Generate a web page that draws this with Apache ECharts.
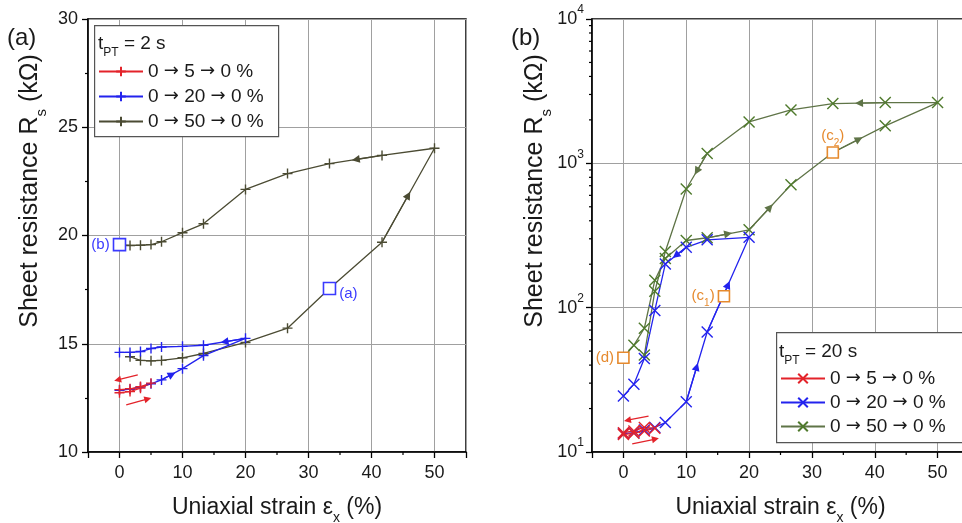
<!DOCTYPE html>
<html>
<head>
<meta charset="utf-8">
<script src="https://cdn.jsdelivr.net/npm/echarts@6/dist/echarts.min.js"></script>
<style>
  html, body { margin: 0; padding: 0; background: #fff; }
  #chart { width: 962px; height: 523px; }
</style>
</head>
<body>
<div id="chart"></div>
<script>
// ---------- (a) t_PT = 2 s : sheet resistance in kΩ, linear scale ----------
const strainA5  = [0, 1.67, 3.33, 5, 3.33, 1.67, 0];
const rsA5      = [12.74, 12.79, 12.95, 13.18, 13.02, 12.92, 12.88];
const strainA20 = [0, 1.67, 3.33, 5, 6.67, 10, 13.33, 20, 13.33, 10, 6.67, 5, 3.33, 1.67, 0];
const rsA20     = [12.85, 12.9, 13.0, 13.15, 13.33, 13.85, 14.45, 15.25, 14.93, 14.88, 14.85, 14.78, 14.64, 14.6, 14.6];
const strainA50 = [1.67, 3.33, 5, 6.67, 10, 13.33, 20, 26.67, 33.33, 41.67, 50, 41.67, 33.33, 26.67, 20, 13.33, 10, 6.67, 5, 3.33, 1.67, 0];
const rsA50     = [14.4, 14.23, 14.21, 14.23, 14.35, 14.55, 15.06, 15.72, 17.55, 19.69, 24.03, 23.7, 23.32, 22.86, 22.13, 20.54, 20.13, 19.71, 19.58, 19.55, 19.54, 19.58];
// segments (start index) that carry a direction arrow
const arrowSegA20 = [4, 7];
const arrowSegA50 = [9, 11];
// loading / unloading hints beside the 0 → 5 → 0 % loop
const hintA5 = [[[2.9, 13.56], [-0.3, 13.33]], [[1.07, 12.18], [4.5, 12.45]]];
// marked states
const markA      = [[33.33, 17.55], [0, 19.58]];
const markALabel = ['(a)', '(b)'];

// ---------- (b) t_PT = 20 s : sheet resistance in kΩ, log scale ----------
const strainB5  = [0, 1.67, 3.33, 5, 3.33, 1.67, 0];
const rsB5      = [13.2, 13.5, 14.0, 14.6, 14.8, 14.0, 13.6];
const strainB20 = [0, 1.67, 3.33, 5, 6.67, 10, 13.33, 20, 13.33, 10, 6.67, 5, 3.33, 1.67, 0];
const rsB20     = [13.4, 13.6, 14.2, 14.8, 16, 22.3, 67.8, 307, 295, 262, 201, 95.7, 44.5, 29.5, 24.4];
const strainB50 = [0, 1.67, 3.33, 5, 6.67, 10, 13.33, 20, 26.67, 33.33, 41.67, 50, 41.67, 33.33, 26.67, 20, 13.33, 10, 6.67, 5, 3.33];
const rsB50     = [45, 55, 72, 155, 219, 292, 305, 346, 711, 1189, 1820, 2637, 2637, 2594, 2345, 1936, 1170, 664, 245, 130, 47];
const arrowSegB20 = [5, 6, 9];
const arrowSegB50 = [6, 7, 9, 12, 16];
const hintB5 = [[[4.0, 17.7], [0.64, 16.6]], [[1.4, 11.4], [5.1, 12.3]]];
const markB      = [[16, 120], [33.33, 1189], [0, 45]];
const markBLabel = ['(c{sub|1})', '(c{sub|2})', '(d)'];
const markBPos   = ['left', 'top', 'left'];

// axis decorations
const minorStrain = [5, 15, 25, 35, 45];
const minorDecade = [20, 30, 40, 50, 60, 70, 80, 90, 200, 300, 400, 500, 600, 700, 800, 900, 2000, 3000, 4000, 5000, 6000, 7000, 8000, 9000];

const NAMES = ['0 → 5 → 0 %', '0 → 20 → 0 %', '0 → 50 → 0 %'];

const FONT = '"Liberation Sans", Arial, "DejaVu Sans", sans-serif';
const ARROW_FONT = '"DejaVu Sans", sans-serif';
const INK = '#1a1a1a';
const RED = '#e3232a', BLUE = '#2323ee', OLIVE = '#4b4b33', GREEN = '#4f7a2c', GREEN_LINE = '#5f7447';
const MARK_BLUE = '#3a3aff', ORANGE = '#e68a2e';
const PLUS = 'path://M5,0L5,10M0,5L10,5';
const CROSS = 'path://M0,0L10,10M0,10L10,0';

const subRich = { sub: { fontSize: 14, fontFamily: FONT, color: INK, verticalAlign: 'bottom', lineHeight: 12, padding: [0, 0, -6, 0] } };

const pairs = (xs, ys) => xs.map((x, i) => [x, ys[i]]);

function curve(name, xs, ys, color, symbol, size, axis, lineColor) {
  return {
    type: 'line', name, xAxisIndex: axis.x, yAxisIndex: axis.y, data: pairs(xs, ys),
    symbol, symbolSize: size, showSymbol: true, showAllSymbol: true,
    lineStyle: { color: lineColor || color, width: 1.3 },
    itemStyle: { color, borderColor: color, borderWidth: 1.4 },
    emphasis: { disabled: true }, animation: false, silent: true, z: 3
  };
}

function midPoint(a, b, log) {
  return [(a[0] + b[0]) / 2, log ? Math.sqrt(a[1] * b[1]) : (a[1] + b[1]) / 2];
}

function arrows(xs, ys, segs, color, axis, log) {
  return {
    type: 'lines', coordinateSystem: 'cartesian2d', xAxisIndex: axis.x, yAxisIndex: axis.y,
    data: segs.map(i => {
      const a = [xs[i], ys[i]], b = [xs[i + 1], ys[i + 1]];
      return { coords: [a, midPoint(a, b, log)] };
    }),
    symbol: ['none', 'triangle'], symbolSize: 8,
    lineStyle: { color, width: 1.3, opacity: 1 },
    silent: true, animation: false, z: 4
  };
}

function hints(segs, color, axis) {
  return {
    type: 'lines', coordinateSystem: 'cartesian2d', xAxisIndex: axis.x, yAxisIndex: axis.y,
    data: segs.map(s => ({ coords: s })),
    symbol: ['none', 'triangle'], symbolSize: 7,
    lineStyle: { color, width: 1.3, opacity: 1 },
    silent: true, animation: false, z: 4
  };
}

function marks(pts, labels, positions, color, axis, size, labelColor) {
  return {
    type: 'scatter', xAxisIndex: axis.x, yAxisIndex: axis.y,
    data: pts.map((p, i) => ({
      value: p,
      label: { position: positions[i], formatter: labels[i], offset: positions[i] === 'right' ? [0, 5] : [0, 0] }
    })),
    symbol: 'rect', symbolSize: size,
    itemStyle: { color: '#fff', borderColor: color, borderWidth: 1.6, opacity: 1 },
    label: { show: true, color: labelColor, fontSize: 15, fontFamily: FONT, distance: 3,
             rich: { sub: { fontSize: 10, color: labelColor, fontFamily: FONT, verticalAlign: 'bottom', lineHeight: 10, padding: [0, 0, -5, 0] } } },
    silent: true, animation: false, z: 6
  };
}

function tickMarks(vals, fixed, isX, dx, dy, axis) {
  return {
    type: 'custom', xAxisIndex: axis.x, yAxisIndex: axis.y, clip: false, silent: true, animation: false, z: 5,
    data: vals.map(v => isX ? [v, fixed] : [fixed, v]),
    renderItem: (params, api) => {
      const p = api.coord([api.value(0), api.value(1)]);
      return { type: 'line', shape: { x1: p[0], y1: p[1], x2: p[0] + dx, y2: p[1] + dy },
               style: { stroke: '#000', lineWidth: 1.2 } };
    }
  };
}

const axisLine = { show: true, onZero: false, lineStyle: { color: '#000', width: 1.5 } };
const gridLine = { show: true, lineStyle: { color: '#a0a0a0', width: 1 } };

function strainAxis(gridIndex) {
  return {
    type: 'value', gridIndex, min: -5, max: 55, splitNumber: 6,
    axisLine, axisTick: { show: true, length: 6, lineStyle: { color: '#000', width: 1.3 } },
    axisLabel: { fontSize: 18, color: INK, margin: 12, fontFamily: FONT,
                 formatter: v => (v % 10 === 0 ? String(v) : '') },
    splitLine: gridLine,
    name: 'Uniaxial strain ε{sub|x} (%)', nameLocation: 'middle', nameGap: 44,
    nameTextStyle: { fontSize: 23, color: INK, fontFamily: FONT, rich: subRich }
  };
}

const legendText = n => n.trim().replace(/→/g, '{a|→}');
const legendStyle = { fontSize: 19, color: INK, fontFamily: FONT,
                      rich: { a: { fontSize: 18, color: INK, fontFamily: ARROW_FONT } } };

function titleText(x, y, text, rotation, size) {
  return { type: 'text', x, y, rotation, z: 11,
    style: { text, align: 'center', verticalAlign: 'middle', fill: INK,
             rich: { i: { fontSize: size, fontFamily: FONT, fill: INK },
                     s: { fontSize: 15, fontFamily: FONT, fill: INK, verticalAlign: 'bottom', lineHeight: 12, padding: [0, 0, -7, 0] } } } };
}

const yTitle = '{i|Sheet resistance R}{s|s}{i| (kΩ)}';

const option = {
  backgroundColor: '#fff',
  animation: false,
  textStyle: { fontFamily: FONT },
  grid: [
    { left: 88, right: 496, top: 19, bottom: 71, show: true, borderColor: '#000', borderWidth: 1.5, containLabel: false, outerBoundsMode: 'none' },
    { left: 592, right: -7, top: 19, bottom: 71, show: true, borderColor: '#000', borderWidth: 1.5, containLabel: false, outerBoundsMode: 'none' }
  ],
  xAxis: [strainAxis(0), strainAxis(1)],
  yAxis: [
    {
      type: 'value', gridIndex: 0, min: 10, max: 30, interval: 5,
      axisLine, axisTick: { show: true, length: 6, lineStyle: { color: '#000', width: 1.3 } },
      minorTick: { show: true, splitNumber: 2, length: 3, lineStyle: { color: '#000', width: 1.2 } },
      axisLabel: { fontSize: 18, color: INK, margin: 10, fontFamily: FONT },
      splitLine: gridLine
    },
    {
      type: 'log', logBase: 10, gridIndex: 1, min: 10, max: 10000,
      axisLine, axisTick: { show: true, length: 6, lineStyle: { color: '#000', width: 1.3 } },
      axisLabel: { fontSize: 18, color: INK, margin: 8, fontFamily: FONT,
                   formatter: v => '10{sup|' + Math.round(Math.log10(v)) + '}',
                   rich: { sup: { fontSize: 12, color: INK, fontFamily: FONT, verticalAlign: 'top', lineHeight: 12, padding: [-6, 0, 0, 0] } } },
      splitLine: gridLine
    }
  ],
  legend: [
    {
      left: 98, top: 62, orient: 'vertical', itemWidth: 44, itemHeight: 12, itemGap: 6, padding: 0,
      data: NAMES, selectedMode: false, z: 10,
      textStyle: legendStyle, formatter: legendText
    },
    {
      left: 780, top: 369, orient: 'vertical', itemWidth: 44, itemHeight: 12, itemGap: 5, padding: 0,
      data: NAMES.map(n => n + ' '), selectedMode: false, z: 10,
      textStyle: legendStyle, formatter: legendText
    }
  ],
  graphic: [
    { type: 'rect', left: 94, top: 25, z: 6, shape: { width: 184, height: 111 },
      style: { fill: '#fff', stroke: '#555', lineWidth: 1.2 } },
    { type: 'text', left: 98, top: 34, z: 11,
      style: { text: '{i|t}{s|PT}{i| = 2 s}', fill: INK,
               rich: { i: { fontSize: 19, fontFamily: FONT, fill: INK },
                       s: { fontSize: 12, fontFamily: FONT, fill: INK, verticalAlign: 'bottom', lineHeight: 12, padding: [0, 0, -6, 0] } } } },
    { type: 'rect', left: 776, top: 332, z: 6, shape: { width: 200, height: 110 },
      style: { fill: '#fff', stroke: '#555', lineWidth: 1.2 } },
    { type: 'text', left: 779, top: 342, z: 11,
      style: { text: '{i|t}{s|PT}{i| = 20 s}', fill: INK,
               rich: { i: { fontSize: 19, fontFamily: FONT, fill: INK },
                       s: { fontSize: 12, fontFamily: FONT, fill: INK, verticalAlign: 'bottom', lineHeight: 12, padding: [0, 0, -6, 0] } } } },
    { type: 'text', left: 7, top: 26, z: 11, style: { text: '(a)', fontSize: 24, fontFamily: FONT, fill: INK } },
    { type: 'text', left: 511, top: 26, z: 11, style: { text: '(b)', fontSize: 24, fontFamily: FONT, fill: INK } },
    titleText(30, 191, yTitle, Math.PI / 2, 25),
    titleText(535, 191, yTitle, Math.PI / 2, 25)
  ],
  series: [
    // panel (a)
    curve(NAMES[2], strainA50, rsA50, OLIVE, PLUS, 10, { x: 0, y: 0 }),
    arrows(strainA50, rsA50, arrowSegA50, OLIVE, { x: 0, y: 0 }, false),
    curve(NAMES[1], strainA20, rsA20, BLUE, PLUS, 10, { x: 0, y: 0 }),
    arrows(strainA20, rsA20, arrowSegA20, BLUE, { x: 0, y: 0 }, false),
    curve(NAMES[0], strainA5, rsA5, RED, PLUS, 10, { x: 0, y: 0 }),
    hints(hintA5, RED, { x: 0, y: 0 }),
    marks(markA, markALabel, ['right', 'left'], MARK_BLUE, { x: 0, y: 0 }, 12, MARK_BLUE),
    tickMarks(minorStrain, 10, true, 0, 3, { x: 0, y: 0 }),
    // panel (b)
    curve(NAMES[2] + ' ', strainB50, rsB50, GREEN, CROSS, 11, { x: 1, y: 1 }, GREEN_LINE),
    arrows(strainB50, rsB50, arrowSegB50, GREEN_LINE, { x: 1, y: 1 }, true),
    curve(NAMES[1] + ' ', strainB20, rsB20, BLUE, CROSS, 11, { x: 1, y: 1 }),
    arrows(strainB20, rsB20, arrowSegB20, BLUE, { x: 1, y: 1 }, true),
    curve(NAMES[0] + ' ', strainB5, rsB5, RED, CROSS, 11, { x: 1, y: 1 }),
    hints(hintB5, RED, { x: 1, y: 1 }),
    marks(markB, markBLabel, markBPos, ORANGE, { x: 1, y: 1 }, 11, ORANGE),
    tickMarks(minorStrain, 10, true, 0, 3, { x: 1, y: 1 }),
    tickMarks(minorDecade, -5, false, -3, 0, { x: 1, y: 1 })
  ]
};

const chart = echarts.init(document.getElementById('chart'), null, { renderer: 'canvas' });
chart.setOption(option);
</script>
</body>
</html>
